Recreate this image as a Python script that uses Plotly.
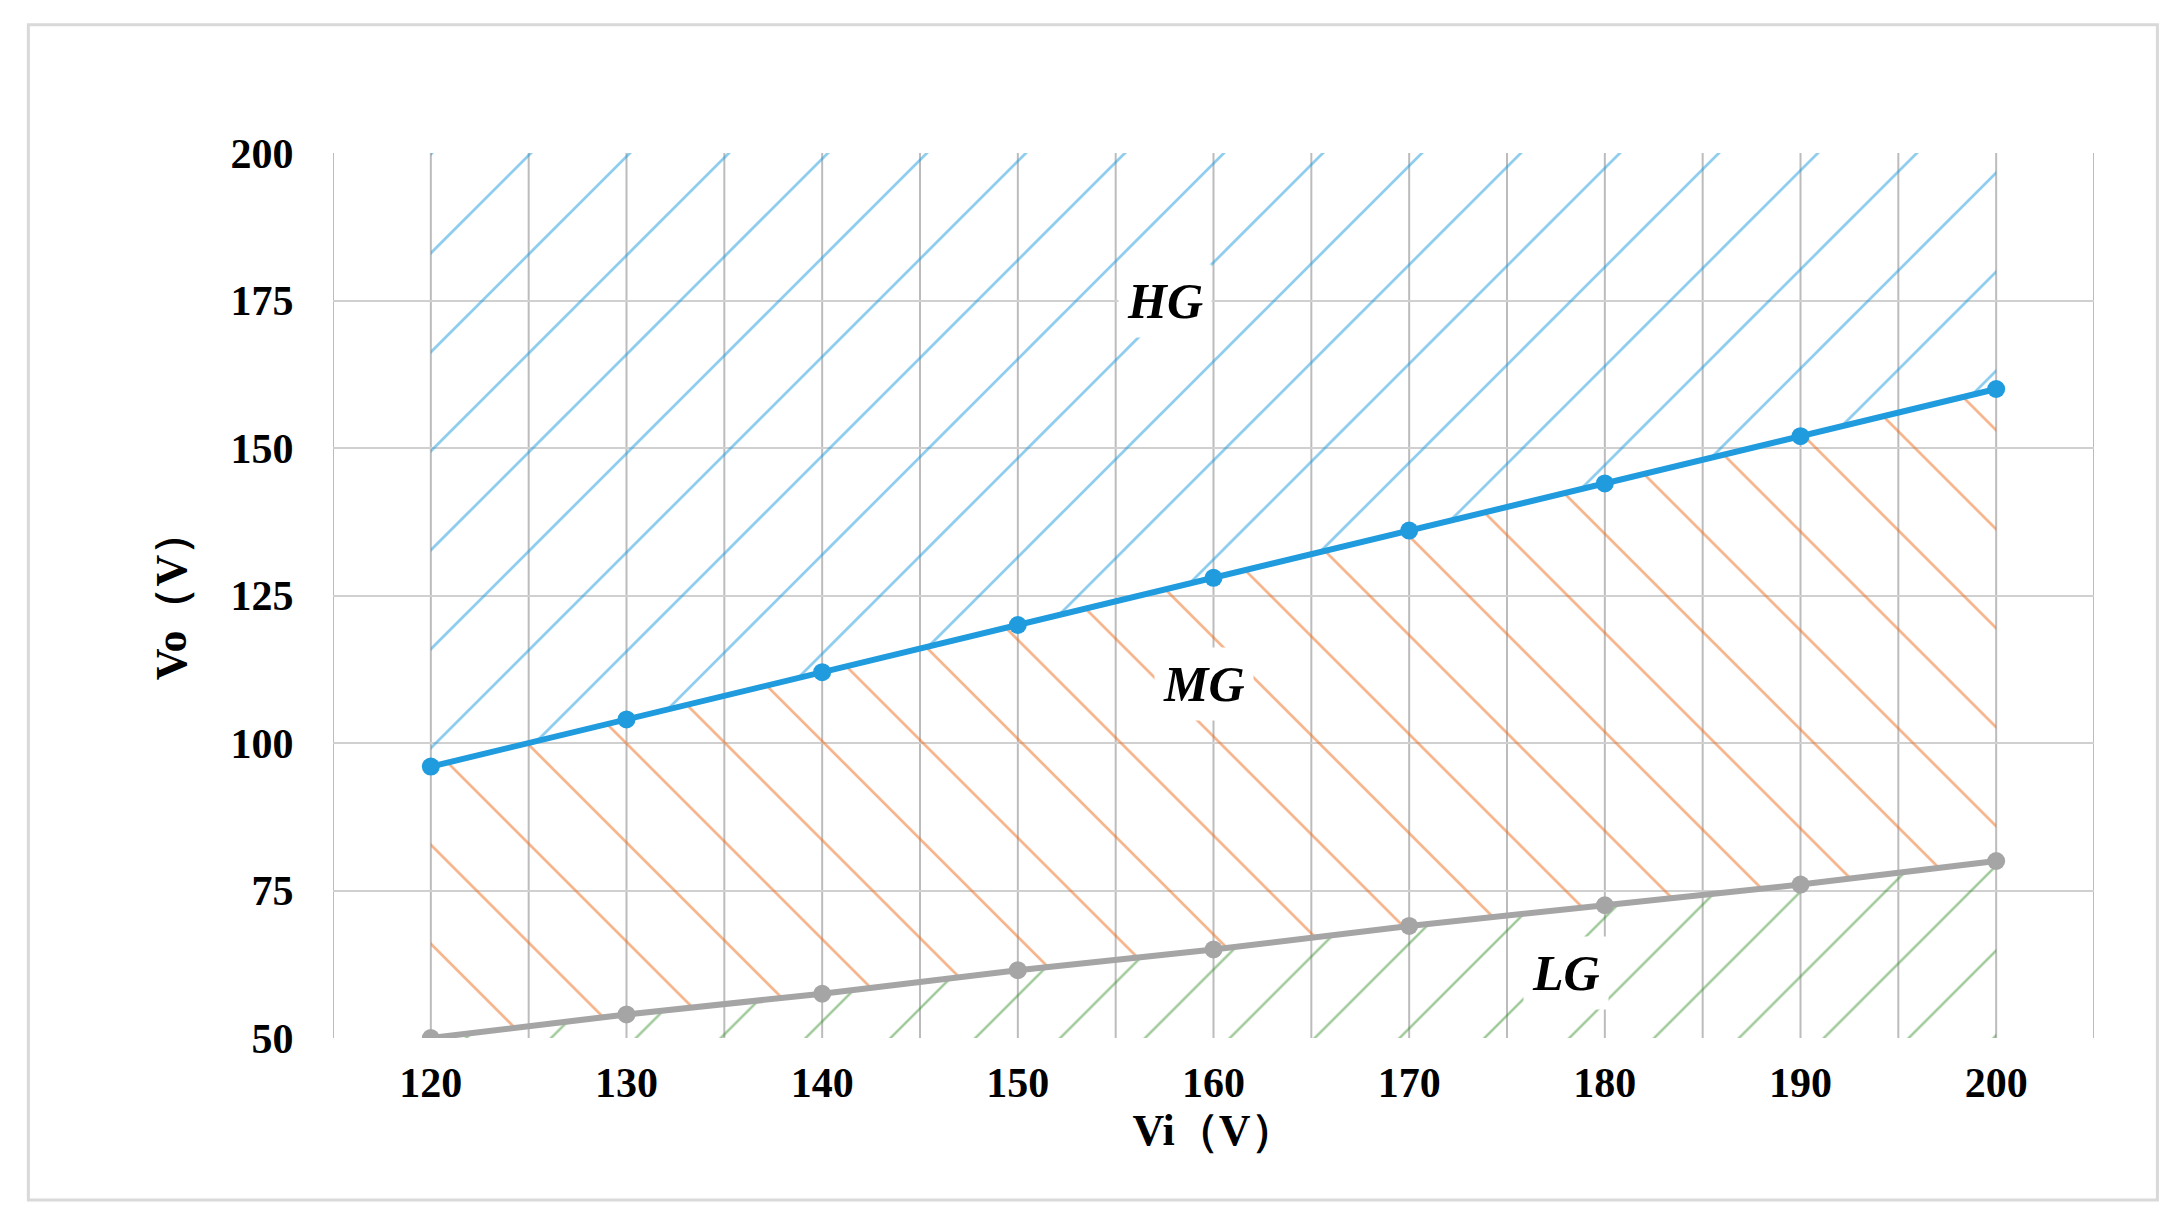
import plotly.graph_objects as go

# Boundary data
vi = [120, 130, 140, 150, 160, 170, 180, 190, 200]
vo_high = [96, 104, 112, 120, 128, 136, 144, 152, 160]
vo_low = [50, 54, 57.5, 61.5, 65, 69, 72.5, 76, 80]

blue = "#1f9bde"
grey = "#a5a5a5"
orange = "#ed6b1c"
green = "#3a8f2e"

fig = go.Figure()

# HG region: above blue line
fig.add_trace(go.Scatter(
    x=vi + [200, 120], y=vo_high + [200, 200], fill="toself", mode="none",
    fillcolor="rgba(0,0,0,0)",
    fillpattern=dict(shape="/", fgcolor=blue, bgcolor="rgba(0,0,0,0)", size=70, solidity=0.04),
    hoverinfo="skip", showlegend=False))

# MG region: between the lines
fig.add_trace(go.Scatter(
    x=vi + vi[::-1], y=vo_low + vo_high[::-1], fill="toself", mode="none",
    fillcolor="rgba(0,0,0,0)",
    fillpattern=dict(shape="\\", fgcolor=orange, bgcolor="rgba(0,0,0,0)", size=70, solidity=0.04),
    hoverinfo="skip", showlegend=False))

# LG region: below grey line
fig.add_trace(go.Scatter(
    x=vi + [200, 120], y=vo_low + [50, 50], fill="toself", mode="none",
    fillcolor="rgba(0,0,0,0)",
    fillpattern=dict(shape="/", fgcolor=green, bgcolor="rgba(0,0,0,0)", size=60, solidity=0.04),
    hoverinfo="skip", showlegend=False))

fig.add_trace(go.Scatter(x=vi, y=vo_high, mode="lines+markers",
                         line=dict(color=blue, width=6), marker=dict(size=18, color=blue),
                         showlegend=False))
fig.add_trace(go.Scatter(x=vi, y=vo_low, mode="lines+markers",
                         line=dict(color=grey, width=6), marker=dict(size=18, color=grey),
                         showlegend=False))

font_lbl = dict(family="Liberation Serif", size=50, color="black")
for txt, x, y in [("<b><i>HG</i></b>", 157.5, 175), ("<b><i>MG</i></b>", 159.5, 110),
                  ("<b><i>LG</i></b>", 178, 61)]:
    fig.add_annotation(x=x, y=y, text=txt, showarrow=False, font=font_lbl,
                       bgcolor="white", borderpad=8)

tick_font = dict(family="Liberation Serif", size=42, color="black")
title_font = dict(family="Liberation Serif", size=44, color="black")
fig.update_xaxes(range=[115, 205], tickvals=vi, ticktext=[f"<b>{v}</b>" for v in vi],
                 tickfont=tick_font, showgrid=False, zeroline=False, ticklen=8, ticks="outside",
                 tickcolor="white",
                 title=dict(text="<b>Vi（V）</b>", font=title_font, standoff=0))
fig.update_yaxes(range=[50, 200], tickvals=[50, 75, 100, 125, 150, 175, 200],
                 ticktext=[f"<b>{v}</b>" for v in [50, 75, 100, 125, 150, 175, 200]],
                 tickfont=tick_font, gridcolor="#d0d0d0", gridwidth=2, zeroline=False,
                 ticks="outside", ticklen=30, tickcolor="white",
                 title=dict(text="<b>Vo（V）</b>", font=title_font, standoff=30))

# vertical grid lines every 5 V
for x in range(115, 206, 5):
    fig.add_shape(type="line", x0=x, x1=x, y0=50, y1=200, xref="x", yref="y",
                  line=dict(color="#bcbcbc", width=2), layer="below")

fig.add_shape(type="rect", xref="paper", yref="paper", x0=-0.173, x1=1.036, y0=-0.183, y1=1.145,
              line=dict(color="#d9d9d9", width=3))

fig.update_layout(width=2168, height=1222, plot_bgcolor="white", paper_bgcolor="white",
                  margin=dict(l=325, r=82, t=145, b=192))

fig.write_html("out.html")
